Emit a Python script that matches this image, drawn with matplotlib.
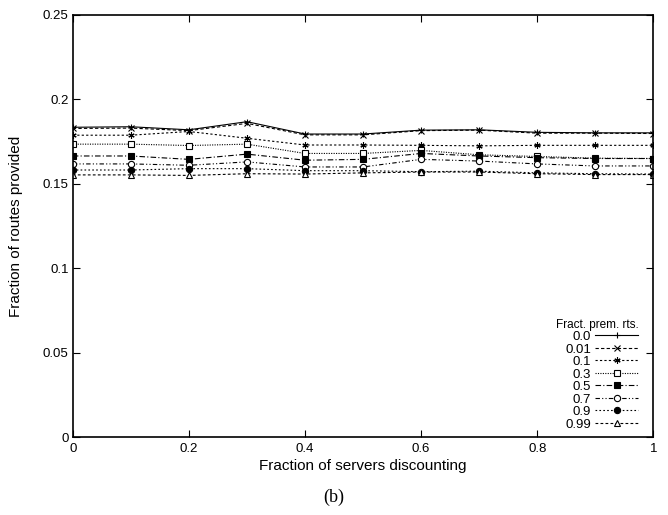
# Libraries
import matplotlib
matplotlib.use("Agg")
import matplotlib.pyplot as plt

plt.rcParams['font.family'] = ['Liberation Sans', 'DejaVu Sans']

# x values: fraction of servers discounting
frac_discount = [0.0, 0.1, 0.2, 0.3, 0.4, 0.5, 0.6, 0.7, 0.8, 0.9, 1.0]

# one series per fraction of premium routes
prem_labels = ["0.0", "0.01", "0.1", "0.3", "0.5", "0.7", "0.9", "0.99"]
routes_00 = [0.1835, 0.1838, 0.1820, 0.1868, 0.1795, 0.1795, 0.1818, 0.1820, 0.1805, 0.1802, 0.1802]
routes_001 = [0.1828, 0.1830, 0.1815, 0.1858, 0.1790, 0.1790, 0.1815, 0.1818, 0.1800, 0.1800, 0.1798]
routes_01 = [0.1788, 0.1788, 0.1810, 0.1770, 0.1730, 0.1730, 0.1728, 0.1725, 0.1728, 0.1728, 0.1728]
routes_03 = [0.1735, 0.1735, 0.1727, 0.1735, 0.1680, 0.1680, 0.1698, 0.1672, 0.1662, 0.1652, 0.1650]
routes_05 = [0.1665, 0.1665, 0.1645, 0.1676, 0.1640, 0.1645, 0.1680, 0.1665, 0.1655, 0.1650, 0.1650]
routes_07 = [0.1618, 0.1618, 0.1610, 0.1630, 0.1600, 0.1600, 0.1645, 0.1635, 0.1618, 0.1606, 0.1606]
routes_09 = [0.1582, 0.1582, 0.1590, 0.1590, 0.1578, 0.1578, 0.1572, 0.1575, 0.1565, 0.1560, 0.1558]
routes_099 = [0.1553, 0.1553, 0.1550, 0.1560, 0.1558, 0.1565, 0.1570, 0.1570, 0.1560, 0.1555, 0.1555]

series = [routes_00, routes_001, routes_01, routes_03, routes_05, routes_07, routes_09, routes_099]
styles = [
    dict(linestyle="-", marker="+", mfc="black"),
    dict(linestyle=(0, (3, 2)), marker="x", mfc="black"),
    dict(linestyle=(0, (2, 2)), marker=(6, 2, 0), mfc="black"),
    dict(linestyle=(0, (1, 1.2)), marker="s", mfc="white"),
    dict(linestyle=(0, (5, 2, 1, 2)), marker="s", mfc="black"),
    dict(linestyle=(0, (4, 2, 1, 2, 1, 2)), marker="o", mfc="white"),
    dict(linestyle=(0, (1.5, 2)), marker="o", mfc="black"),
    dict(linestyle=(0, (2.5, 2)), marker="^", mfc="white"),
]

fig = plt.figure(figsize=(6.68, 5.15), dpi=100)
ax = fig.add_axes([0.109, 0.151, 0.869, 0.820])

for vals, lab, st in zip(series, prem_labels, styles):
    ax.plot(frac_discount, vals, color="black", linewidth=0.8,
            linestyle=st["linestyle"], marker=st["marker"], markersize=4.5,
            markerfacecolor=st["mfc"], markeredgecolor="black",
            markeredgewidth=0.8, label=lab)

ax.set_xlim(0, 1)
ax.set_ylim(0, 0.25)
ax.set_xticks([0, 0.2, 0.4, 0.6, 0.8, 1])
ax.set_xticklabels(["0", "0.2", "0.4", "0.6", "0.8", "1"])
ax.set_yticks([0, 0.05, 0.1, 0.15, 0.2, 0.25])
ax.set_yticklabels(["0", "0.05", "0.1", "0.15", "0.2", "0.25"])
ax.tick_params(direction="in", top=True, right=True, length=5, width=0.8,
               labelsize=9.5)
ax.tick_params(axis="y", pad=3)
ax.tick_params(axis="x", pad=4)
for sp in ax.spines.values():
    sp.set_linewidth(1.2)

ax.set_xlabel("Fraction of servers discounting", fontsize=11, labelpad=3)
ax.set_ylabel("Fraction of routes provided", fontsize=11, labelpad=14)

leg = ax.legend(title="Fract. prem. rts.", loc="lower right", frameon=False,
                markerfirst=False, fontsize=9.5, title_fontsize=8.5,
                handlelength=3.3, handletextpad=0.3, labelspacing=0.02,
                borderaxespad=0.2, bbox_to_anchor=(0.988, -0.003))
leg._legend_box.align = "right"

fig.text(0.5, 0.035, "(b)", ha="center", va="center", fontsize=13,
         family="Liberation Serif")

plt.savefig("out.png", dpi=100)
